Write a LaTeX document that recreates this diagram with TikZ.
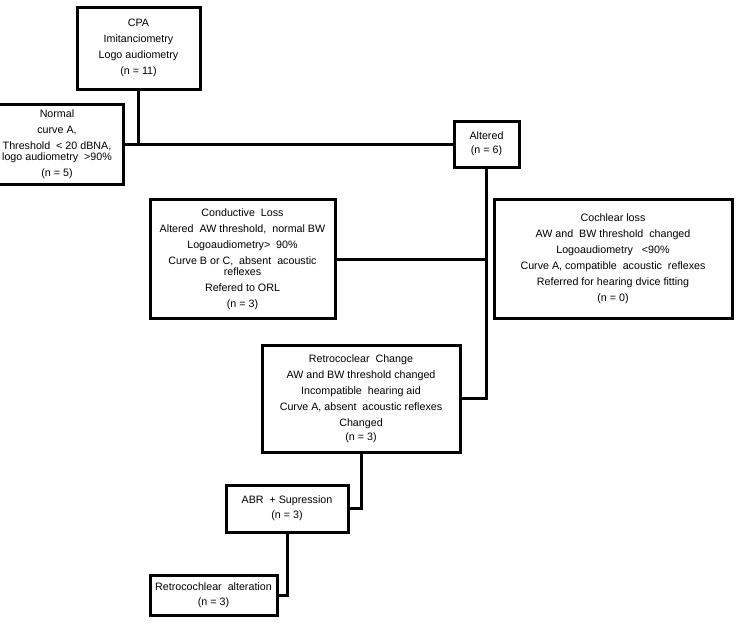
\documentclass[tikz,border=0pt]{standalone}
\usepackage{fontspec}
\setmainfont{Liberation Sans}
\begin{document}
\begin{tikzpicture}[x=1pt,y=-1pt,
  box/.style={draw=black,line width=3pt,fill=white,inner sep=0pt,outer sep=0pt,
    align=center,font=\fontsize{10.7}{16}\selectfont,line join=miter},
  conn/.style={draw=black,line width=3pt,line join=miter}]
\useasboundingbox (0,0) rectangle (739,629);
\node[box,minimum width=123pt,minimum height=82pt] (cpa) at (138.5,48)
  {CPA\\Imitanciometry\\Logo audiometry\\(n = 11)};
\node[box,minimum width=132pt,minimum height=80pt] (normal) at (57,144)
  {Normal\\curve A,\\Threshold \ < 20 dBNA,\\[-5pt]logo audiometry \ >90\%\\(n = 5)};
\node[box,minimum width=65pt,minimum height=46pt] (altered) at (486.5,144)
  {Altered\\[-2pt](n = 6)};
\node[box,minimum width=185pt,minimum height=119pt] (cond) at (242.5,259)
  {Conductive \ Loss\\Altered \ AW threshold, \ normal BW\\Logoaudiometry> \ 90\%\\Curve B or C, \ absent \ acoustic\\[-5pt]reflexes\\Refered to ORL\\(n = 3)};
\node[box,minimum width=238pt,minimum height=119pt] (coch) at (613,258.5)
  {Cochlear loss\\AW and \ BW threshold \ changed\\Logoaudiometry \ \ <90\%\\Curve A, compatible \ acoustic \ reflexes\\Referred for hearing dvice fitting\\(n = 0)};
\node[box,minimum width=198pt,minimum height=107pt] (retro) at (361,398.5)
  {Retrococlear \ Change\\AW and BW threshold changed\\Incompatible \ hearing aid\\Curve A, absent \ acoustic reflexes\\Changed\\[-2pt](n = 3)};
\node[box,minimum width=122pt,minimum height=47pt] (abr) at (287,508.5)
  {ABR \ + Supression\\[-1pt](n = 3)};
\node[box,minimum width=127pt,minimum height=40pt] (ralt) at (213.5,595)
  {Retrocochlear \ alteration\\[-1pt](n = 3)};
\coordinate (j1) at (cpa.south |- normal.east);
\draw[conn] (cpa.south) -- (j1);
\draw[conn] (normal.east) -- (altered.west);
\draw[conn] (altered.south) |- (retro.east);
\draw[conn] (cond.east) -- (cond.east -| altered.south);
\draw[conn] (retro.south) |- (abr.east);
\draw[conn] (abr.south) |- (ralt.east);
\end{tikzpicture}
\end{document}
